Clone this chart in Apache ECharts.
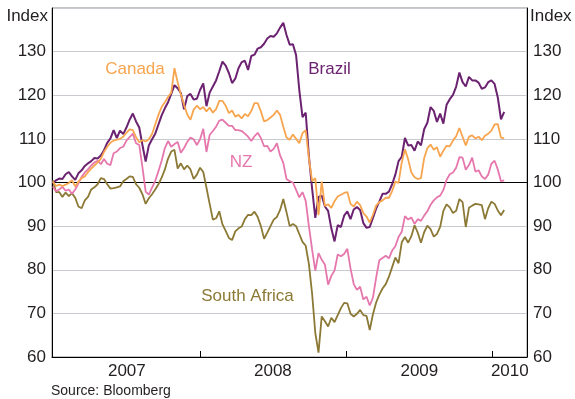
<!DOCTYPE html>
<html>
<head>
<meta charset="utf-8">
<script src="https://cdn.jsdelivr.net/npm/echarts@6/dist/echarts.min.js"></script>
<style>
  html, body { margin: 0; padding: 0; background: #fff; }
  #chart { width: 575px; height: 399px; }
</style>
</head>
<body>
<div id="chart"></div>
<script>
// Exchange rates against the US dollar, index (start of 2007 = 100), sampled every 8 days
const START_DATE = Date.UTC(2006, 11, 29);
const STEP_DAYS = 8;

const brazil = [
  99.8,100.5,100.9,100.8,101.9,102.4,101.4,100.6,102.1,102.8,
  103.8,104.4,104.9,105.6,105.5,106.2,107.4,109.1,110.1,112.0,
  110.2,111.9,111.1,112.6,114.4,115.8,114.0,112.6,108.6,104.8,
  108.5,109.9,111.2,113.3,115.4,117.0,118.4,120.3,122.3,121.6,
  120.5,116.8,119.8,120.3,119.0,119.2,121.2,122.7,117.5,120.6,
  122.0,123.4,125.5,127.7,126.8,125.1,122.8,123.8,126.2,127.6,
  127.9,125.8,129.0,129.3,130.7,131.0,131.8,133.0,133.6,133.4,
  134.2,135.5,136.6,133.8,131.6,131.7,129.2,121.2,115.0,116.0,
  106.0,98.6,91.9,96.7,97.0,94.5,93.5,89.5,86.5,90.2,
  89.8,92.4,93.4,91.6,93.8,94.4,93.7,90.7,89.6,89.8,
  91.9,94.0,95.6,97.4,97.4,97.9,99.6,101.8,104.9,105.9,
  110.2,108.5,108.6,107.3,109.4,108.5,112.2,113.7,117.3,116.4,
  113.9,115.8,113.5,117.8,119.1,120.1,122.0,125.2,123.0,122.0,
  124.2,123.4,123.4,122.9,121.5,121.8,123.0,123.4,122.6,119.5,
  114.5,116.2
];

const canada = [
  100.2,99.2,99.5,99.2,99.5,99.9,100.5,99.1,100.2,101.0,
  101.4,102.4,103.2,103.9,104.6,105.4,107.0,108.2,109.1,109.6,
  109.8,110.0,110.5,111.4,112.2,112.0,110.4,109.2,109.7,109.4,
  109.9,111.1,113.3,115.5,117.3,118.4,119.6,120.6,126.2,123.0,
  120.2,117.8,115.6,114.4,116.7,117.6,116.8,117.3,116.3,117.2,
  116.0,116.8,118.7,118.7,117.6,115.9,116.5,115.1,115.5,114.7,
  115.7,115.2,116.4,118.2,118.2,116.3,114.0,114.3,114.9,115.5,
  116.5,115.5,112.8,110.3,109.8,111.0,110.0,109.0,111.3,112.0,
  105.6,100.3,101.0,92.5,100.2,94.6,95.0,94.2,95.7,96.8,
  97.2,97.6,97.8,95.1,94.5,95.6,94.8,93.0,92.2,90.8,
  92.6,94.7,95.5,95.9,96.5,96.5,98.0,100.2,99.9,104.6,
  107.6,105.3,102.3,101.2,100.8,101.0,105.6,107.9,108.7,107.5,
  108.1,105.9,107.3,108.4,108.3,109.6,110.6,112.5,110.5,108.5,
  110.5,110.8,110.1,110.5,109.7,110.7,111.2,111.9,113.3,113.4,
  110.3,110.1
];

const nz = [
  99.1,98.0,98.4,99.0,98.1,98.4,97.4,98.4,99.8,101.3,
  102.3,103.0,103.9,104.6,105.0,104.2,105.4,104.3,104.0,106.7,
  107.1,107.9,108.2,109.6,110.4,111.2,109.0,108.6,103.5,97.9,
  97.2,98.8,100.4,102.6,105.0,107.9,109.5,108.2,108.8,109.3,
  106.8,107.9,109.3,110.3,109.9,108.6,109.9,112.3,107.0,110.9,
  111.8,112.8,114.2,114.4,113.7,113.0,113.0,112.0,112.0,111.8,
  111.2,110.5,109.5,110.6,111.4,110.2,108.3,108.4,107.1,107.7,
  109.0,106.2,104.5,100.8,100.3,100.0,98.3,96.6,97.8,95.8,
  90.0,84.6,79.8,83.8,82.3,81.2,76.6,78.6,79.8,83.5,
  83.1,83.6,84.8,80.3,76.7,75.4,76.1,73.2,73.8,71.8,
  73.6,78.2,82.2,82.7,83.2,82.6,84.4,85.4,87.5,88.7,
  92.3,91.5,92.0,90.5,91.6,91.2,92.4,93.4,94.9,95.9,
  96.6,97.0,98.3,100.6,101.9,102.3,103.4,105.8,105.7,102.9,
  104.0,105.7,102.5,102.8,101.4,100.8,101.8,104.3,105.0,103.0,
  100.3,100.5
];

const southAfrica = [
  100.5,97.8,97.8,96.7,97.7,96.9,97.5,96.5,94.5,94.1,
  95.9,96.7,98.4,98.9,99.6,101.0,100.8,99.6,98.6,98.7,
  98.9,99.1,100.3,100.8,101.4,101.3,99.6,98.8,97.3,95.1,
  96.4,97.3,98.4,99.6,101.1,103.0,105.5,107.1,107.5,103.2,
  104.4,103.0,103.9,103.0,100.8,101.8,103.4,102.4,98.8,95.1,
  91.5,91.8,93.4,90.4,88.9,87.3,86.8,88.8,89.5,89.9,
  91.6,92.6,92.5,93.3,92.1,90.0,87.1,88.5,90.0,91.5,
  92.1,93.7,96.2,93.2,90.0,90.5,90.0,88.2,86.4,85.5,
  81.3,74.5,65.5,61.0,69.3,68.2,67.0,69.0,68.0,69.6,
  71.2,72.4,72.3,69.9,69.3,69.9,70.8,69.6,69.4,66.2,
  69.8,72.5,74.3,75.7,76.7,78.4,80.6,82.8,81.5,86.3,
  87.5,86.2,87.7,90.2,88.5,86.2,88.6,90.1,89.3,87.6,
  88.2,89.8,93.5,95.0,94.3,93.0,93.5,96.2,95.5,89.8,
  94.2,94.7,95.1,95.0,94.8,91.6,94.1,95.6,95.1,93.6,
  92.5,93.7
];

const yTicks = [60, 70, 80, 90, 100, 110, 120, 130];
const yearLabels = ['2007', '2008', '2009', '2010'];
const yearStarts = ['2008-01-01', '2009-01-01', '2010-01-01'];
const yearLabelDates = ['2007-07-02', '2008-07-01', '2009-07-02', '2010-02-13'];

const DAY = 864e5;
const ts = s => Date.parse(s + 'T00:00:00Z');
const dates = brazil.map((_, i) => START_DATE + i * STEP_DAYS * DAY);
const pairs = vals => vals.map((v, i) => [dates[i], v]);
const labelStamps = yearLabelDates.map(ts);

const FONT = '"Liberation Sans", Arial, Helvetica, sans-serif';
const TEXT = '#231f20';
const COLORS = {
  brazil: '#6b2270',
  canada: '#f7a54f',
  nz: '#e677ad',
  southAfrica: '#8b7935'
};

const xMin = Date.UTC(2006, 11, 27);
const xMax = Date.UTC(2010, 2, 28);

const chart = echarts.init(document.getElementById('chart'), null, { renderer: 'canvas' });

const yAxisBase = {
  type: 'value', min: 60, max: 140, interval: 10,
  axisLine: { show: true, lineStyle: { color: '#000', width: 1 } },
  axisTick: { show: false },
  axisLabel: {
    fontSize: 17, fontFamily: FONT, color: TEXT, margin: 6,
    formatter: v => (yTicks.indexOf(v) >= 0 ? String(v) : '')
  }
};

const lineSeries = (name, vals, color, width) => ({
  name, type: 'line', data: pairs(vals),
  showSymbol: false, symbol: 'none', silent: true,
  lineStyle: { color, width }, itemStyle: { color },
  z: 3
});

chart.setOption({
  animation: false,
  grid: { left: 52, right: 48, top: 8, bottom: 42, show: true, borderColor: '#8a8a8a', borderWidth: 1 },
  xAxis: {
    type: 'value', min: xMin, max: xMax,
    axisLine: { show: true, lineStyle: { color: '#000', width: 1 } },
    axisTick: {
      show: true, inside: true, length: 6,
      customValues: yearStarts.map(ts),
      lineStyle: { color: '#000', width: 1 }
    },
    axisLabel: {
      customValues: labelStamps,
      formatter: v => {
        const k = labelStamps.indexOf(v);
        return k >= 0 ? yearLabels[k] : '';
      },
      fontSize: 17, fontFamily: FONT, color: TEXT, margin: 6
    },
    splitLine: { show: false }
  },
  yAxis: [
    Object.assign({}, yAxisBase, {
      position: 'left',
      splitLine: { show: true, lineStyle: { color: '#c7cbcf', width: 1.2 } }
    }),
    Object.assign({}, yAxisBase, {
      position: 'right',
      splitLine: { show: false }
    })
  ],
  series: [
    {
      name: 'base', type: 'line', silent: true, showSymbol: false, symbol: 'none',
      data: [[xMin, 100], [xMax, 100]],
      lineStyle: { color: '#000', width: 1 }, z: 2
    },
    lineSeries('South Africa', southAfrica, COLORS.southAfrica, 1.8),
    lineSeries('Brazil', brazil, COLORS.brazil, 2),
    lineSeries('NZ', nz, COLORS.nz, 1.8),
    lineSeries('Canada', canada, COLORS.canada, 1.8)
  ],
  graphic: [
    { type: 'text', x: 48, y: 16, style: { text: 'Index', align: 'right', verticalAlign: 'middle', font: '17px ' + FONT, fill: TEXT } },
    { type: 'text', x: 530, y: 16, style: { text: 'Index', align: 'left', verticalAlign: 'middle', font: '17px ' + FONT, fill: TEXT } },
    { type: 'text', x: 135, y: 69, style: { text: 'Canada', align: 'center', verticalAlign: 'middle', font: '17px ' + FONT, fill: COLORS.canada } },
    { type: 'text', x: 329.5, y: 69.5, style: { text: 'Brazil', align: 'center', verticalAlign: 'middle', font: '17px ' + FONT, fill: COLORS.brazil } },
    { type: 'text', x: 241, y: 162.5, style: { text: 'NZ', align: 'center', verticalAlign: 'middle', font: '17px ' + FONT, fill: COLORS.nz } },
    { type: 'text', x: 247.5, y: 296, style: { text: 'South Africa', align: 'center', verticalAlign: 'middle', font: '17px ' + FONT, fill: COLORS.southAfrica } },
    { type: 'text', x: 51, y: 391, style: { text: 'Source: Bloomberg', align: 'left', verticalAlign: 'middle', font: '14px ' + FONT, fill: TEXT } }
  ]
});
</script>
</body>
</html>
